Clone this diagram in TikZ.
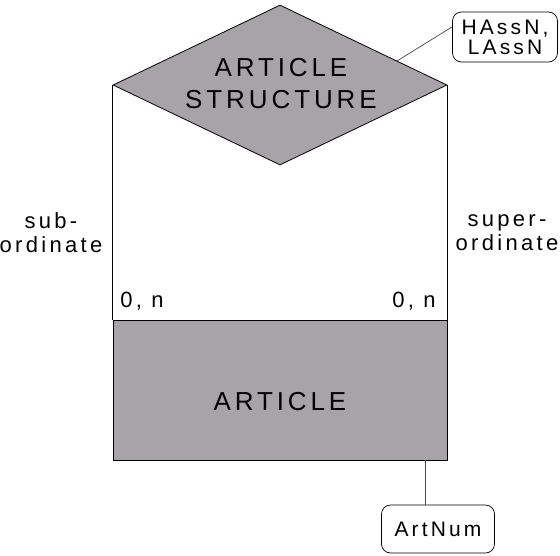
\documentclass[tikz,border=0pt]{standalone}
\usepackage{fontspec}
\setmainfont{Liberation Sans}[LetterSpace=15]
\usetikzlibrary{shapes.geometric,calc}
\definecolor{entfill}{RGB}{168,163,168}
\definecolor{linegray}{RGB}{70,70,70}
\tikzset{
  entity/.style={draw=black, line width=0.8pt, fill=entfill, minimum width=334pt, minimum height=140pt, inner sep=0pt},
  relship/.style={diamond, draw=black, line width=0.8pt, fill=entfill, minimum width=334pt, minimum height=160pt, inner sep=0pt},
  bigtext/.style={font=\fontsize{26}{32}\selectfont, align=center, inner sep=0pt},
  midtext/.style={font=\fontsize{22}{24}\selectfont, align=center, inner sep=0pt},
  attr/.style={draw=black, line width=0.7pt, rounded corners=9pt, fill=white, font=\fontsize{21}{20}\selectfont, align=center, inner sep=0pt},
  conn/.style={draw=linegray, line width=0.7pt}
}
\begin{document}
\begin{tikzpicture}[x=1pt,y=-1pt]
\useasboundingbox (0,0) rectangle (560,555);
\node[relship] (rel) at (280,85) {};
\node[bigtext] (reltext) at (281,84) {ARTICLE\\STRUCTURE};
\node[entity] (art) at (280,390) {};
\node[bigtext] (arttext) at (280,402) {ARTICLE};
\draw[conn, draw=black] (rel.west) -- (art.north west);
\draw[conn, draw=black] (rel.east) -- (art.north east);
\node[midtext] (sub) at (51,233) {sub-\\ordinate};
\node[midtext] (super) at (507,233) {super-\\ordinate};
\node[midtext] (card1) at (142,301) {0, n};
\node[midtext] (card2) at (414,301) {0, n};
\node[attr, minimum width=105pt, minimum height=50pt] (hassn) at (505,37) {HAssN,\\LAssN};
\node[attr, minimum width=113pt, minimum height=48pt] (artnum) at (438,529) {ArtNum};
\coordinate (lnk) at (425,0);
\draw[conn] ($(rel.north)!0.7!(rel.east)$) -- ($(hassn.north west)!0.3!(hassn.south west)$);
\draw[conn] (art.south -| lnk) -- (artnum.north -| lnk);
\end{tikzpicture}
\end{document}
